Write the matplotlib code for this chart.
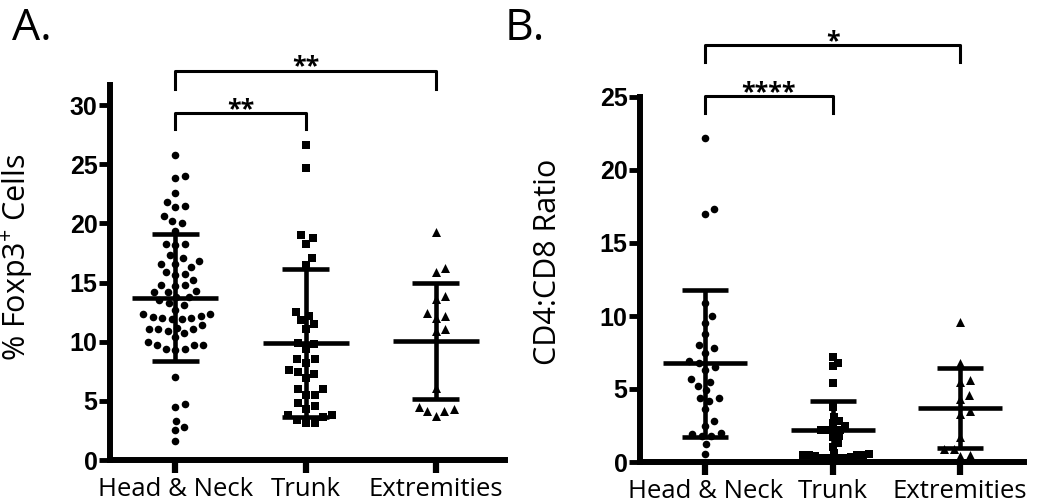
import numpy as np
import matplotlib
matplotlib.use("Agg")
import matplotlib.pyplot as plt

plt.rcParams["font.family"] = ["Open Sans", "DejaVu Sans"]
plt.rcParams["mathtext.default"] = "regular"

groups = ["Head & Neck", "Trunk", "Extremities"]

# Panel A: % Foxp3+ cells
foxp3_head = [25.8, 24.0, 23.8, 22.6, 21.8, 21.4, 21.5, 20.6, 20.2, 20.0, 19.4,
              18.3, 18.2, 18.3, 17.3, 17.1, 16.8, 16.6, 16.6, 16.3, 15.9, 15.7,
              15.6, 15.2, 14.8, 14.7, 14.8, 14.2, 14.2, 14.3, 13.8, 13.8, 13.5,
              13.1, 13.3, 12.7, 12.3, 12.1, 11.9, 12.0, 11.9, 12.0, 12.2, 12.3,
              11.2, 11.1, 10.9, 10.7, 11.1, 11.1, 11.4, 10.0, 9.7, 9.4, 9.3,
              9.4, 9.7, 9.7, 10.4, 7.0, 4.5, 4.7, 3.3, 2.5, 2.8, 1.6]
foxp3_trunk = [26.6, 24.7, 19.0, 18.8, 18.3, 17.1, 16.5, 12.5, 12.2, 11.8, 11.5,
               11.1, 9.9, 9.4, 9.8, 8.5, 8.5, 8.2, 7.6, 7.4, 7.3, 6.9, 6.0, 6.0,
               5.5, 5.5, 4.6, 4.8, 4.3, 3.8, 3.8, 3.4, 3.1, 3.1, 3.6]
foxp3_ext = [19.3, 15.9, 16.2, 13.9, 13.6, 12.4, 12.2, 12.0, 10.9, 11.1, 6.1,
             4.5, 4.1, 3.7, 4.1, 4.3]
foxp3_mean = [13.72, 9.86, 10.06]
foxp3_sd = [5.36, 6.25, 4.93]

# Panel B: CD4:CD8 ratio
ratio_head = [22.2, 17.0, 17.3, 10.9, 10.0, 9.5, 8.8, 8.0, 7.5, 7.8, 6.9, 6.8,
              6.5, 6.3, 5.5, 5.7, 4.9, 5.2, 4.4, 4.2, 4.4, 3.6, 2.8, 2.5, 1.9,
              1.8, 1.8, 2.0, 1.2, 0.55]
ratio_trunk = [7.2, 6.6, 6.8, 5.4, 3.8, 3.1, 2.7, 2.8, 2.5, 2.2, 2.2, 2.2, 2.2,
               1.7, 1.8, 1.3, 1.05, 0.55, 0.5, 0.5, 0.5, 0.5, 0.6, 0.3, 0.3,
               0.3, 0.3, 0.35, 0.2, 0.4]
ratio_ext = [9.6, 6.8, 5.5, 5.6, 4.6, 4.3, 3.3, 3.5, 1.7, 0.9, 0.9, 0.4, 0.5]
ratio_mean = [6.76, 2.19, 3.67]
ratio_sd = [5.03, 1.99, 2.74]

# significance brackets: (group i, group j, bar height, leg bottom, label)
sig_a = [(0, 1, 29.3, 28.0, "**"), (0, 2, 32.9, 31.4, "**")]
sig_b = [(0, 1, 25.07, 23.9, "****"), (0, 2, 28.56, 27.4, "*")]


def swarm(ax, x0, values, d):
    # simple beeswarm in pixel space, returns x in data units
    pts = ax.transData.transform(np.column_stack([np.full(len(values), x0), values]))
    cx = pts[0, 0]
    ys = pts[:, 1]
    cands = np.arange(0, 80, 0.5)
    cands = np.concatenate([[0], np.ravel(np.column_stack([cands[1:], -cands[1:]]))])
    placed = []
    xs = np.zeros(len(values))
    for i in np.argsort(ys):
        y = ys[i]
        for off in cands:
            if all((off - px) ** 2 + (y - py) ** 2 >= d * d for px, py in placed):
                break
        placed.append((off, y))
        xs[i] = cx + off
    back = ax.transData.inverted().transform(np.column_stack([xs, ys]))
    return back[:, 0]


def style_axes(ax, yticks, ylabel, label_xy):
    for s in ["top", "right"]:
        ax.spines[s].set_visible(False)
    for s in ["left", "bottom"]:
        ax.spines[s].set_linewidth(4.3)
        ax.spines[s].set_capstyle("projecting")
    ax.set_yticks(yticks, [str(t) for t in yticks], fontweight="bold",
                  fontfamily="Liberation Sans", fontsize=18)
    ax.set_xticks(range(3), groups, fontsize=18.5)
    ax.tick_params(axis="y", direction="out", length=8, width=3.5, pad=1)
    ax.tick_params(axis="x", direction="out", length=9, width=4.5, pad=3)
    ax.set_ylabel(ylabel, fontsize=22)
    ax.yaxis.set_label_coords(*label_xy)


def draw_panel(ax, data, means, sds, markers, sizes, gaps, sig):
    for i, (vals, m, s) in enumerate(zip(data, means, sds)):
        xs = swarm(ax, i, vals, gaps[i])
        ax.scatter(xs, vals, marker=markers[i], s=sizes[i], color="black",
                   linewidths=0, zorder=3)
        ax.plot([i - 0.33, i + 0.33], [m, m], color="black", lw=3.3,
                solid_capstyle="butt", zorder=4)
        ax.plot([i, i], [m - s, m + s], color="black", lw=3.3,
                solid_capstyle="butt", zorder=4)
        for y in (m - s, m + s):
            ax.plot([i - 0.18, i + 0.18], [y, y], color="black", lw=3.3,
                    solid_capstyle="butt", zorder=4)
    for a, b, top, low, txt in sig:
        ax.plot([a, a, b, b], [low, top, top, low], color="black", lw=2.2,
                clip_on=False)
        ax.annotate(txt, ((a + b) / 2, top), xytext=(0, -2),
                    textcoords="offset points", ha="center", va="baseline",
                    fontsize=18, fontweight="bold", annotation_clip=False)


fig = plt.figure(figsize=(10.5, 5.03), dpi=100)

axA = fig.add_axes([110 / 1050, 43 / 503, 395 / 1050, 375 / 503])
axA.set_xlim(-0.5, 2.53)
axA.set_ylim(0, 31.7)
style_axes(axA, [0, 5, 10, 15, 20, 25, 30], "% Foxp3$^{+}$ Cells", (-0.19, 0.54))
draw_panel(axA, [foxp3_head, foxp3_trunk, foxp3_ext], foxp3_mean, foxp3_sd,
           ["o", "s", "^"], [30, 38, 42], [9.5, 9.5, 9.5], sig_a)

axB = fig.add_axes([640 / 1050, 41 / 503, 384 / 1050, 365 / 503])
axB.set_xlim(-0.51, 2.5)
axB.set_ylim(0, 25)
style_axes(axB, [0, 5, 10, 15, 20, 25], "CD4:CD8 Ratio", (-0.2, 0.548))
draw_panel(axB, [ratio_head, ratio_trunk, ratio_ext], ratio_mean, ratio_sd,
           ["o", "s", "^"], [30, 36, 42], [9.5, 6.0, 9.5], sig_b)

fig.text(12 / 1050, 1 - 40 / 503, "A.", fontsize=32, va="baseline")
fig.text(505 / 1050, 1 - 40 / 503, "B.", fontsize=32, va="baseline")

fig.savefig("out.png", dpi=100)
